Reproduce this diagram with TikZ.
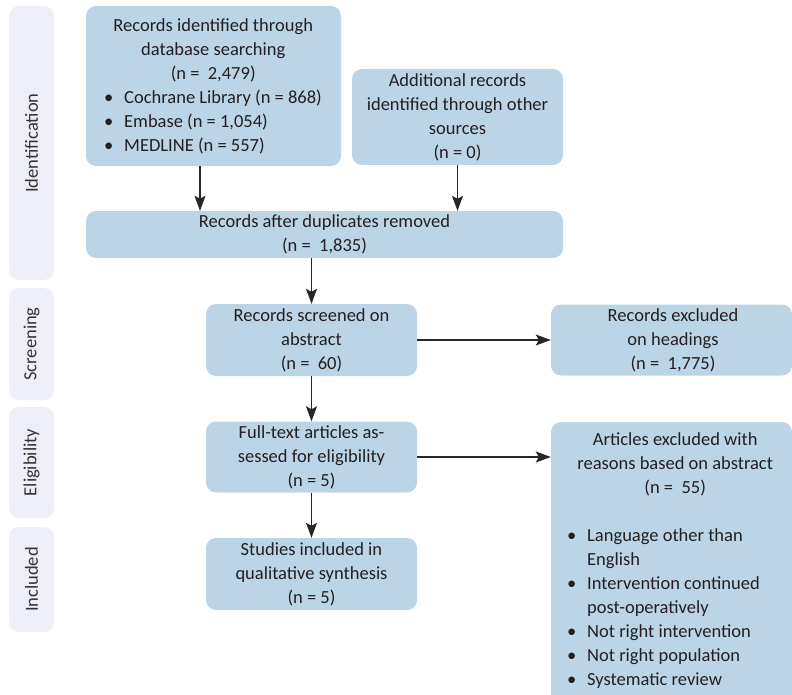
\documentclass[tikz,border=0pt]{standalone}
\usepackage{fontspec}
\setmainfont{Carlito}
\usetikzlibrary{arrows.meta}
\definecolor{boxblue}{HTML}{BCD5E6}
\definecolor{sidebg}{HTML}{EEEEF8}
\definecolor{txtc}{HTML}{231F20}
\newcommand{\bul}[1]{\makebox[20pt][l]{•}#1}
\begin{document}
\begin{tikzpicture}[x=1pt,y=-1pt,
  box/.style={fill=boxblue, rounded corners=10pt, inner sep=0pt, draw=none},
  side/.style={fill=sidebg, rounded corners=10pt, minimum width=45pt, inner sep=0pt},
  txt/.style={font=\fontsize{18.5}{24}\selectfont, text=txtc, inner sep=0pt, align=center},
  ltxt/.style={font=\fontsize{18.5}{24}\selectfont, text=txtc, inner sep=0pt, align=left},
  arr/.style={-{Stealth[length=15pt,width=11pt,inset=3pt]}, line width=1.2pt, draw=black!85}]
\useasboundingbox (0,0) rectangle (792,695);
% side labels
\node[side, minimum height=274pt] (s1) at (31.5,143) {};
\node[txt, rotate=90, text=black!80] (s1t) at (s1) {Identification};
\node[side, minimum height=112pt] (s2) at (31.5,344) {};
\node[txt, rotate=90, text=black!80] (s2t) at (s2) {Screening};
\node[side, minimum height=111pt] (s3) at (31.5,462.5) {};
\node[txt, rotate=90, text=black!80] (s3t) at (s3) {Eligibility};
\node[side, minimum height=105pt] (s4) at (31.5,579.5) {};
\node[txt, rotate=90, text=black!80] (s4t) at (s4) {Included};
% boxes
\node[box, minimum width=255pt, minimum height=160pt] (b1) at (213.5,86) {};
\node[ltxt, anchor=west] (t1) at (104,86) {\makebox[218pt]{Records identified through}\\
  \makebox[218pt]{database searching}\\ \makebox[218pt]{(n =\ \ 2,479)}\\
  \bul{Cochrane Library (n = 868)}\\ \bul{Embase (n = 1,054)}\\ \bul{MEDLINE (n = 557)}};
\node[box, minimum width=211pt, minimum height=96pt] (b2) at (457.5,117) {};
\node[txt] (t2) at (b2) {Additional records\\identified through other\\sources\\(n = 0)};
\node[box, minimum width=477pt, minimum height=47pt] (b3) at (324.5,234.5) {};
\node[txt] (t3) at (b3) {Records after duplicates removed\\(n =\ \ 1,835)};
\node[box, minimum width=211pt, minimum height=72pt] (b4) at (311.5,340) {};
\node[txt] (t4) at (b4) {Records screened on\\abstract\\(n =\ \ 60)};
\node[box, minimum width=211pt, minimum height=71pt] (b5) at (311.5,457) {};
\node[txt] (t5) at (b5) {Full-text articles as-\\sessed for eligibility\\(n = 5)};
\node[box, minimum width=211pt, minimum height=72pt] (b6) at (311.5,574) {};
\node[txt] (t6) at (b6) {Studies included in\\qualitative synthesis\\(n = 5)};
\node[box, minimum width=241pt, minimum height=71pt] (b7) at (671.5,340) {};
\node[txt] (t7) at (673,340) {Records excluded\\on headings\\(n =\ \ 1,775)};
\node[box, minimum width=241pt, minimum height=290pt] (b8) at (671.5,567) {};
\node[ltxt, anchor=north west] (t8) at (567,432.5) {\makebox[216pt]{Articles excluded with}\\
  \makebox[216pt]{reasons based on abstract}\\ \makebox[216pt]{(n =\ \ 55)}\\[24pt]
  \bul{Language other than}\\ \hspace*{20pt}English\\ \bul{Intervention continued}\\
  \hspace*{20pt}post-operatively\\ \bul{Not right intervention}\\ \bul{Not right population}\\
  \bul{Systematic review}};
% arrows
\draw[arr] ([xshift=-13.5pt]b1.south) -- ([xshift=-124.5pt]b3.north);
\draw[arr] (b2.south) -- (b2.south |- b3.north);
\draw[arr] (b3.south -| b4.north) -- (b4.north);
\draw[arr] (b4.south) -- (b5.north);
\draw[arr] (b5.south) -- (b6.north);
\draw[arr] (b4.east) -- (b7.west);
\draw[arr] (b5.east) -- (b5.east -| b8.west);
\end{tikzpicture}
\end{document}
